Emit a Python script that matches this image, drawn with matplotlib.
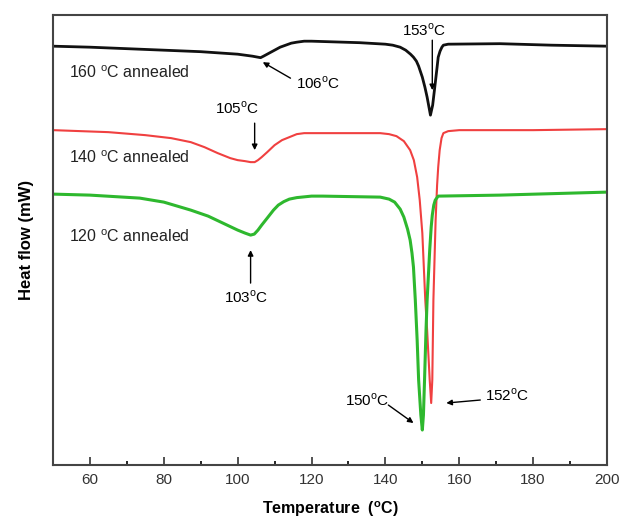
import matplotlib
matplotlib.use('Agg')
import matplotlib.pyplot as plt

plt.rcParams['font.family'] = ['Liberation Sans', 'DejaVu Sans']
plt.rcParams['mathtext.fontset'] = 'custom'
plt.rcParams['mathtext.rm'] = 'Liberation Sans'

# DSC traces (arbitrary mW offsets)
t_160 = [50, 60, 70, 80, 90, 100, 104, 106.2, 107, 108, 109, 110, 111.5, 113, 114.5, 116, 118,
         120, 133, 140, 142, 144, 145.5, 146.8, 147.6, 148.4, 149, 150, 150.7, 151.3, 152.2,
         152.8, 153.5, 154, 154.3, 154.8, 155.3, 155.7, 157, 171, 185, 200]
hf_160 = [4.19, 4.18, 4.165, 4.15, 4.135, 4.11, 4.09, 4.075, 4.09, 4.11, 4.13, 4.15, 4.18, 4.20,
          4.22, 4.23, 4.24, 4.24, 4.225, 4.21, 4.20, 4.18, 4.15, 4.11, 4.08, 4.04, 3.99, 3.88,
          3.78, 3.68, 3.50, 3.60, 3.82, 3.98, 4.08, 4.14, 4.18, 4.20, 4.21, 4.215, 4.20, 4.19]

t_140 = [50, 65, 75, 82, 87.3, 91, 94.6, 98, 100, 102, 103.5, 104.6, 105.5, 106.5, 108, 110,
         112, 114, 116, 118, 128, 138.6, 141, 143, 145, 146.7, 147.7, 148.6, 149.3, 150, 150.8,
         151.3, 152, 152.4, 152.7, 153, 153.6, 154, 154.3, 154.7, 155.2, 155.7, 157, 160, 180,
         200]
hf_140 = [3.35, 3.33, 3.30, 3.27, 3.23, 3.18, 3.12, 3.07, 3.05, 3.04, 3.03, 3.03, 3.05, 3.08,
          3.13, 3.20, 3.25, 3.28, 3.31, 3.32, 3.32, 3.32, 3.31, 3.29, 3.24, 3.15, 3.05, 2.88,
          2.65, 2.32, 1.65, 1.35, 0.85, 0.62, 0.85, 1.65, 2.45, 2.80, 2.98, 3.15, 3.27, 3.32,
          3.34, 3.35, 3.35, 3.36]

t_120 = [50, 60, 73.5, 80, 87.3, 92, 96, 100, 102, 103.5, 104.5, 105.5, 106.5, 108, 109.7, 111,
         112.5, 114, 116, 120, 123, 138.6, 141, 142.5, 144, 145, 146, 146.7, 147.2, 147.6,
         148.1, 148.6, 149, 149.6, 150, 150.3, 150.6, 151, 151.3, 152, 152.4, 152.7, 153.1,
         153.5, 154.3, 171, 200]
hf_120 = [2.71, 2.70, 2.67, 2.63, 2.55, 2.49, 2.42, 2.35, 2.32, 2.30, 2.31, 2.35, 2.40, 2.47,
          2.55, 2.60, 2.635, 2.66, 2.675, 2.69, 2.69, 2.68, 2.66, 2.63, 2.56, 2.48, 2.36, 2.25,
          2.12, 1.98, 1.65, 1.25, 0.85, 0.50, 0.35, 0.50, 0.85, 1.35, 1.65, 2.15, 2.38, 2.50,
          2.60, 2.65, 2.69, 2.70, 2.73]

labels = ['160 $^\\mathregular{o}$C annealed', '140 $^\\mathregular{o}$C annealed',
          '120 $^\\mathregular{o}$C annealed']

fig = plt.figure(figsize=(6.2, 5.24), dpi=100)
ax = fig.add_axes([0.0855, 0.1126, 0.8935, 0.8584])

ax.plot(t_160, hf_160, color='#111111', lw=2.0)
ax.plot(t_140, hf_140, color='#f04040', lw=1.5)
ax.plot(t_120, hf_120, color='#2eb82e', lw=2.2)

ax.text(54.3, 3.92, labels[0], fontsize=11.5, va='center', color='#222222')
ax.text(54.3, 3.07, labels[1], fontsize=11.5, va='center', color='#222222')
ax.text(54.3, 2.28, labels[2], fontsize=11.5, va='center', color='#222222')

arrow = dict(arrowstyle='-|>', lw=1.0, color='black', mutation_scale=8, shrinkA=0, shrinkB=0)
ax.annotate('', xy=(106.8, 4.03), xytext=(114.3, 3.87), arrowprops=arrow)
ax.text(115.7, 3.82, '106$^\\mathregular{o}$C', fontsize=11, va='center', ha='left')
ax.annotate('', xy=(152.7, 3.75), xytext=(152.7, 4.25), arrowprops=arrow)
ax.text(150.5, 4.35, '153$^\\mathregular{o}$C', fontsize=11, va='center', ha='center')
ax.annotate('', xy=(104.6, 3.15), xytext=(104.6, 3.42), arrowprops=arrow)
ax.text(99.8, 3.57, '105$^\\mathregular{o}$C', fontsize=11, va='center', ha='center')
ax.annotate('', xy=(103.5, 2.15), xytext=(103.5, 1.82), arrowprops=arrow)
ax.text(102.4, 1.68, '103$^\\mathregular{o}$C', fontsize=11, va='center', ha='center')
ax.annotate('', xy=(147.6, 0.42), xytext=(140.8, 0.60), arrowprops=arrow)
ax.text(135.0, 0.65, '150$^\\mathregular{o}$C', fontsize=11, va='center', ha='center')
ax.annotate('', xy=(156.5, 0.62), xytext=(165.7, 0.65), arrowprops=arrow)
ax.text(173.0, 0.70, '152$^\\mathregular{o}$C', fontsize=11, va='center', ha='center')

ax.set_xlim(50, 200)
ax.set_ylim(0, 4.5)
ax.set_xticks(range(60, 201, 20))
ax.set_xticks(range(50, 201, 10), minor=True)
ax.set_yticks([])
ax.tick_params(axis='x', which='major', direction='in', length=6, width=1.2, labelsize=11,
               pad=6, colors='#333333')
ax.tick_params(axis='x', which='minor', direction='in', length=3, width=1.2)
for s in ax.spines.values():
    s.set_linewidth(1.5)
    s.set_color('#444444')

ax.set_xlabel('Temperature  ($^\\mathregular{o}$C)', fontsize=11.5, fontweight='bold', labelpad=9)
ax.set_ylabel('Heat flow (mW)', fontsize=12, fontweight='bold', labelpad=14)

fig.savefig('out.png', dpi=100)
